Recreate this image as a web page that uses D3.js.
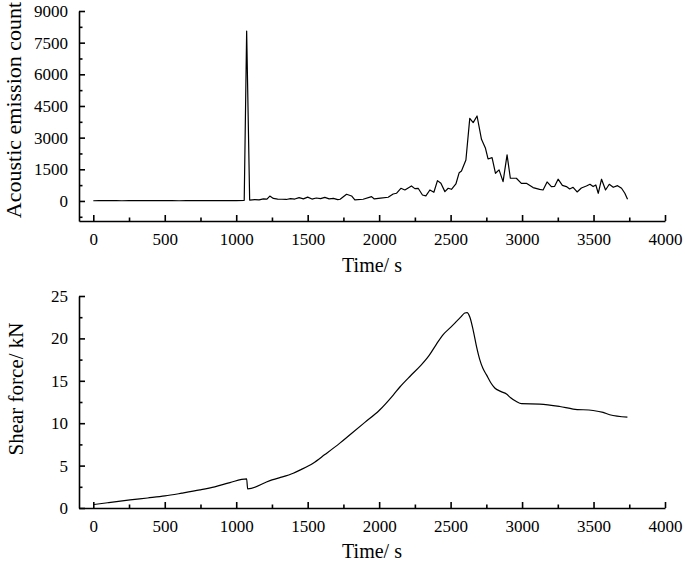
<!DOCTYPE html>
<html>
<head>
<meta charset="utf-8">
<script src="https://cdn.jsdelivr.net/npm/d3@7"></script>
<style>
  body { margin: 0; background: #fff; }
  .axis text { font-family: "Liberation Serif", "Times New Roman", serif; font-size: 17px; fill: #000; }
  .axis path, .axis line { stroke: #000; stroke-width: 1.6px; }
  .title { font-family: "Liberation Serif", "Times New Roman", serif; font-size: 20px; fill: #000; }
</style>
</head>
<body>
<div id="chart-area"></div>
<script>
/*
*    acoustic emission + shear force vs time
*/

// acoustic emission count (top panel)
var aeTime = [0, 40, 80, 120, 160, 200, 250, 300, 350, 400, 450, 500, 550, 600, 650, 700, 750, 800, 850, 900, 950, 1000, 1056,
    1073, 1094, 1130, 1160, 1190, 1215, 1235, 1260, 1290, 1320, 1350, 1380, 1410, 1440, 1470, 1500, 1530, 1560, 1590, 1620,
    1650, 1680, 1710, 1727, 1772, 1807, 1830, 1888, 1947, 1966, 2010, 2063, 2098, 2121, 2152, 2180, 2226, 2250, 2273, 2303,
    2327, 2355, 2383, 2408, 2432, 2460, 2483, 2506, 2537, 2560, 2576, 2607, 2634, 2658, 2685, 2716, 2744, 2762, 2790, 2814,
    2839, 2867, 2895, 2918, 2960, 2995, 3030, 3077, 3123, 3147, 3175, 3205, 3228, 3252, 3282, 3310, 3333, 3357, 3385, 3415,
    3450, 3475, 3497, 3516, 3533, 3556, 3584, 3610, 3638, 3668, 3696, 3719, 3738];
var aeCount = [10, 15, 12, 20, 15, 10, 18, 12, 15, 20, 15, 12, 18, 10, 15, 20, 12, 18, 15, 20, 15, 18, 30,
    8050, 40, 60, 50, 100, 90, 230, 120, 90, 80, 70, 110, 90, 160, 100, 180, 90, 140, 110, 170,
    100, 120, 60, 80, 317, 237, 47, 80, 205, 95, 130, 174, 330, 363, 600, 520, 710, 584, 600, 284,
    237, 520, 410, 963, 836, 442, 600, 552, 805, 1340, 1420, 1940, 3915, 3710, 4025, 2920, 2495, 1990, 2050, 1310,
    1470, 915, 2180, 1075, 1075, 836, 836, 632, 552, 520, 900, 680, 695, 1030, 740, 680, 570, 648, 426, 615,
    710, 790, 680, 757, 363, 1030, 520, 790, 648, 726, 600, 363, 80];

// shear force (bottom panel)
var sfTime = [0, 100, 257, 380, 501, 620, 746, 850, 956, 1073, 1080, 1236, 1300, 1399, 1450, 1538, 1620, 1725, 1800, 1900,
    2000, 2100, 2145, 2220, 2285, 2350, 2400, 2448, 2500, 2541, 2570, 2599, 2615, 2635, 2660, 2681, 2704, 2725, 2751,
    2780, 2809, 2850, 2891, 2920, 2960, 2996, 3124, 3264, 3357, 3497, 3567, 3613, 3737];
var sfForce = [0.4, 0.62, 0.95, 1.18, 1.42, 1.75, 2.13, 2.5, 3.0, 3.43, 2.25, 3.23, 3.55, 4.1, 4.5, 5.28, 6.3, 7.65, 8.7, 10.1,
    11.5, 13.35, 14.27, 15.6, 16.7, 18.0, 19.3, 20.45, 21.3, 22.0, 22.5, 23.0, 23.05, 22.5, 20.8, 19.06, 17.5, 16.5, 15.7,
    14.8, 14.15, 13.75, 13.44, 13.0, 12.55, 12.3, 12.26, 11.97, 11.67, 11.5, 11.27, 11.0, 10.72];

var xMajor = d3.range(0, 4001, 500);
var xMinor = d3.range(250, 4000, 500);
var aeMajor = d3.range(0, 9001, 1500);
var aeMinor = d3.range(-750, 9000, 1500);
var sfMajor = d3.range(0, 26, 5);
var sfMinor = d3.range(2.5, 25, 5);

var width = 685;
var height = 569;

var svg = d3.select("#chart-area")
    .append("svg")
    .attr("width", width)
    .attr("height", height);

var x = d3.scaleLinear()
    .domain([-100, 4000])
    .range([79, 665]);

var yAE = d3.scaleLinear()
    .domain([-950, 9000])
    .range([221, 11]);

var ySF = d3.scaleLinear()
    .domain([0, 25])
    .range([508, 296]);

var fmt = d3.format("d");

function drawPanel(y, yMajor, yMinor, baseY, times, vals, curve) {
    // minor ticks first, major axis on top
    svg.append("g")
        .attr("class", "axis")
        .attr("transform", "translate(0, " + baseY + ")")
        .call(d3.axisBottom(x).tickValues(xMinor).tickSize(-3.5).tickSizeOuter(0).tickFormat(""))
        .select(".domain").remove();

    svg.append("g")
        .attr("class", "axis")
        .attr("transform", "translate(0, " + baseY + ")")
        .call(d3.axisBottom(x).tickValues(xMajor).tickSize(-6).tickSizeOuter(0).tickPadding(12).tickFormat(fmt));

    svg.append("g")
        .attr("class", "axis")
        .attr("transform", "translate(79, 0)")
        .call(d3.axisLeft(y).tickValues(yMinor).tickSize(-3.5).tickSizeOuter(0).tickFormat(""))
        .select(".domain").remove();

    svg.append("g")
        .attr("class", "axis")
        .attr("transform", "translate(79, 0)")
        .call(d3.axisLeft(y).tickValues(yMajor).tickSize(-6).tickSizeOuter(0).tickPadding(11).tickFormat(fmt));

    var line = d3.line()
        .x((d, i) => { return x(times[i]); })
        .y((d) => { return y(d); })
        .curve(curve);

    svg.append("path")
        .datum(vals)
        .attr("fill", "none")
        .attr("stroke", "#000")
        .attr("stroke-width", 1.2)
        .attr("stroke-linejoin", "round")
        .attr("d", line);
}

drawPanel(yAE, aeMajor, aeMinor, 221, aeTime, aeCount, d3.curveLinear);
drawPanel(ySF, sfMajor, sfMinor, 508, sfTime, sfForce, d3.curveMonotoneX);

// axis labels
svg.append("text")
    .attr("class", "title")
    .attr("x", 372)
    .attr("y", 272)
    .attr("text-anchor", "middle")
    .text("Time/ s");

svg.append("text")
    .attr("class", "title")
    .attr("x", 372)
    .attr("y", 558)
    .attr("text-anchor", "middle")
    .text("Time/ s");

svg.append("text")
    .attr("class", "title")
    .attr("transform", "translate(21, 110) rotate(-90)")
    .attr("text-anchor", "middle")
    .style("font-size", "22px")
    .text("Acoustic emission count");

svg.append("text")
    .attr("class", "title")
    .attr("transform", "translate(23, 389) rotate(-90)")
    .attr("text-anchor", "middle")
    .style("font-size", "21px")
    .text("Shear force/ kN");
</script>
</body>
</html>
